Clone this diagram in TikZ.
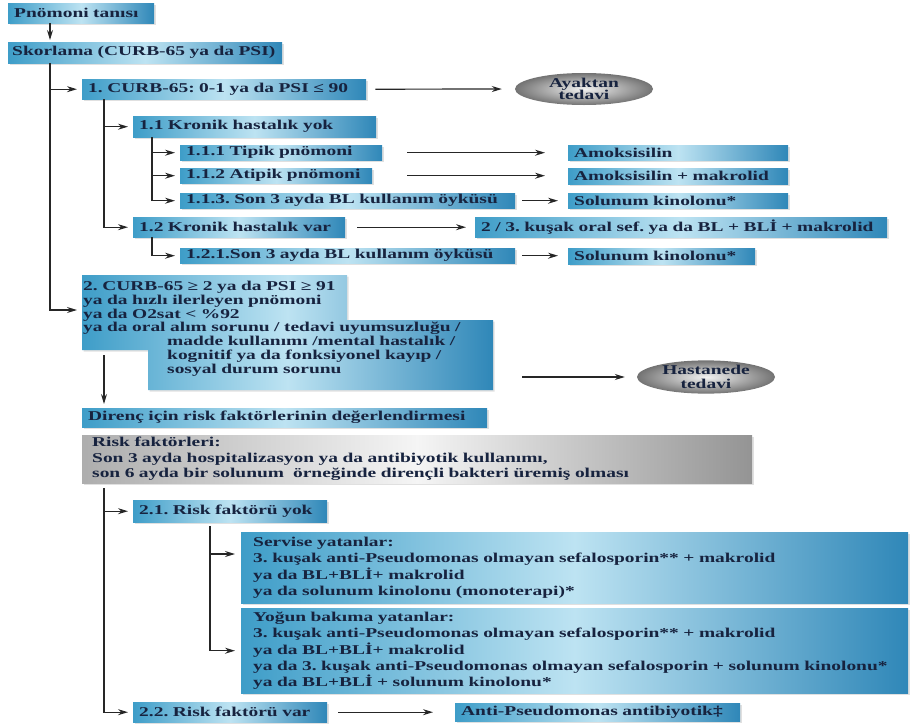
\documentclass[tikz,border=0pt]{standalone}
\usepackage{fontspec}
\setmainfont{Liberation Serif}[FakeStretch=1.44]
\usepackage{tikz}
\usetikzlibrary{shapes.geometric, arrows.meta, shadows}
\definecolor{boxblue}{HTML}{3E9DC8}
\definecolor{boxlight}{HTML}{BDE3F2}
\definecolor{boxdeep}{HTML}{2F87B8}
\definecolor{textnavy}{HTML}{17233F}
\newcommand{\boxfont}{\fontsize{13.5}{16.2}\selectfont\bfseries}
\frenchspacing

\begin{document}
\begin{tikzpicture}[x=1pt, y=-1pt,
    bluebox/.style={anchor=north west, inner xsep=6pt, inner ysep=0pt, align=left, font=\boxfont, text=textnavy,
        left color=boxblue, right color=boxdeep, middle color=boxlight,
        drop shadow={shadow xshift=1.5pt, shadow yshift=-1.5pt, fill=black!30, opacity=0.4}},
    graybox/.style={bluebox, inner xsep=10pt, left color=black!32, right color=black!42, middle color=black!4,
        font=\fontsize{13.5}{15.5}\selectfont\bfseries},
    oval/.style={ellipse, inner sep=0pt, minimum width=138pt, minimum height=32pt, align=center, text=textnavy,
        inner color=black!5, outer color=black!55, font=\fontsize{13.5}{12.5}\selectfont\bfseries},
    arrow/.style={-{Stealth[length=10pt, width=6pt]}, line width=1.2pt, color=black!85}
]
\useasboundingbox (0,0) rectangle (913,723);

% Diagnosis and scoring
\node[bluebox, text width=134pt, minimum height=20pt] (tani) at (8,3) {Pnömoni tanısı};
\node[bluebox, inner xsep=4pt, text width=266pt, minimum height=21pt] (skor) at (8,42) {Skorlama (CURB-65 ya da PSI)};

% Branch 1: outpatient
\node[bluebox, text width=272pt, minimum height=20pt] (curbA) at (82,79) {1. CURB-65: 0-1 ya da PSI ≤ 90};
\node[oval] (ayak) at (584,89) {Ayaktan\\tedavi};
\node[bluebox, text width=231pt, minimum height=21pt] (kron1) at (133,116) {1.1 Kronik hastalık yok};
\node[bluebox, text width=190pt, minimum height=15pt] (tipik) at (180,145) {1.1.1 Tipik pnömoni};
\node[bluebox, text width=180pt, minimum height=15pt] (atipik) at (180,168) {1.1.2 Atipik pnömoni};
\node[bluebox, text width=323pt, minimum height=15pt] (bl1) at (180,193) {1.1.3. Son 3 ayda BL kullanım öyküsü};
\node[bluebox, text width=200pt, minimum height=20pt] (kron2) at (133,217) {1.2 Kronik hastalık var};
\node[bluebox, text width=323pt, minimum height=15pt] (bl2) at (180,248) {1.2.1.Son 3 ayda BL kullanım öyküsü};

% Treatments for branch 1
\node[bluebox, text width=208pt, minimum height=15pt] (amok) at (568,145) {Amoksisilin};
\node[bluebox, text width=208pt, minimum height=16pt] (amokmak) at (568,168) {Amoksisilin + makrolid};
\node[bluebox, text width=208pt, minimum height=15pt] (kino1) at (568,193) {Solunum kinolonu*};
\node[bluebox, text width=400pt, minimum height=20pt] (kusak) at (475,217) {2 / 3. kuşak oral sef. ya da BL + BLİ + makrolid};
\node[bluebox, text width=175pt, minimum height=16pt] (kino2) at (568,248) {Solunum kinolonu*};

% Branch 2: hospital
\shade[left color=boxblue, right color=boxdeep, middle color=boxlight,
    drop shadow={shadow xshift=1.5pt, shadow yshift=-1.5pt, fill=black!30, opacity=0.4}]
    (82,275) -- (347,275) -- (347,320) -- (493,320) -- (493,390) -- (148,390) -- (148,350) -- (82,350) -- cycle;
\node[anchor=north west, inner xsep=1pt, inner ysep=0pt, text width=411pt, minimum height=107pt, align=left,
    text=textnavy, font=\fontsize{13.5}{13.9}\selectfont\bfseries] (curbB) at (82,275)
    {2. CURB-65 ≥ 2 ya da PSI ≥ 91\\
     ya da hızlı ilerleyen pnömoni\\
     ya da O2sat < \%92\\
     ya da oral alım sorunu / tedavi uyumsuzluğu /\\
     \hspace*{84pt}madde kullanımı /mental hastalık /\\
     \hspace*{84pt}kognitif ya da fonksiyonel kayıp /\\
     \hspace*{84pt}sosyal durum sorunu};
\coordinate (curbBin) at (82,310);
\coordinate (curbBout) at (493,377);
\coordinate (curbBdown) at (104,350);
\node[oval, font=\fontsize{13.5}{14}\selectfont\bfseries] (hast) at (706,377) {Hastanede\\tedavi};

% Resistance risk
\node[bluebox, text width=393pt, minimum height=19pt] (direnc) at (82,408) {Direnç için risk faktörlerinin değerlendirmesi};
\node[graybox, text width=650pt, minimum height=48pt] (risk) at (82,435)
    {Risk faktörleri:\\
     Son 3 ayda hospitalizasyon ya da antibiyotik kullanımı,\\
     son 6 ayda bir solunum~ örneğinde dirençli bakteri üremiş olması};
\node[bluebox, text width=182pt, minimum height=22pt] (rf1) at (133,500) {2.1. Risk faktörü yok};
\node[bluebox, inner xsep=12pt, text width=643pt, minimum height=71pt] (servis) at (241,532)
    {Servise yatanlar:\\
     3. kuşak anti-Pseudomonas olmayan sefalosporin** + makrolid\\
     ya da BL+BLİ+ makrolid\\
     ya da solunum kinolonu (monoterapi)*};
\node[bluebox, inner xsep=12pt, text width=643pt, minimum height=85pt] (yogun) at (241,608)
    {Yoğun bakıma yatanlar:\\
     3. kuşak anti-Pseudomonas olmayan sefalosporin** + makrolid\\
     ya da BL+BLİ+ makrolid\\
     ya da 3. kuşak anti-Pseudomonas olmayan sefalosporin + solunum kinolonu*\\
     ya da BL+BLİ + solunum kinolonu*};
\node[bluebox, text width=182pt, minimum height=20pt] (rf2) at (133,702) {2.2. Risk faktörü var};
\node[bluebox, text width=273pt, minimum height=18pt] (anti) at (455,703) {Anti-Pseudomonas antibiyotik‡};

% Tree links
\draw[arrow, shorten >=2pt] ([xshift=42pt]tani.south west) -- ([xshift=42pt]skor.north west);
\draw[arrow, shorten >=5pt] ([xshift=42pt]skor.south west) |- (curbA.west);
\draw[arrow, shorten >=5pt] ([xshift=42pt]skor.south west) |- (curbBin);
\draw[arrow, shorten >=5pt] ([xshift=22pt]curbA.south west) |- (kron1.west);
\draw[arrow, shorten >=5pt] ([xshift=22pt]curbA.south west) |- (kron2.west);
\draw[arrow, shorten >=5pt] ([xshift=19pt]kron1.south west) |- (tipik.west);
\draw[arrow, shorten >=5pt] ([xshift=19pt]kron1.south west) |- (atipik.west);
\draw[arrow, shorten >=5pt] ([xshift=19pt]kron1.south west) |- (bl1.west);
\draw[arrow, shorten >=5pt] ([xshift=19pt]kron2.south west) |- (bl2.west);
\draw[arrow, shorten <=5pt, shorten >=4pt] (curbBdown) -- (curbBdown |- direnc.north);
\draw[arrow, shorten <=5pt, shorten >=5pt] ([xshift=22pt]risk.south west) |- (rf1.west);
\draw[arrow, shorten <=5pt, shorten >=5pt] ([xshift=22pt]risk.south west) |- (rf2.west);
\draw[arrow, shorten <=4pt, shorten >=6pt] ([xshift=77pt]rf1.south west) |- ([yshift=-22pt]servis.north west);
\draw[arrow, shorten <=4pt, shorten >=6pt] ([xshift=77pt]rf1.south west) |- (yogun.west);

% Links to treatments
\draw[arrow, shorten <=9pt, shorten >=13pt] (curbA.east) -- (ayak.west);
\draw[arrow, shorten <=25pt, shorten >=23pt] (tipik.east) -- (amok.west);
\draw[arrow, shorten <=35pt, shorten >=23pt] (atipik.east) -- (atipik.east -| amokmak.west);
\draw[arrow, shorten <=7pt, shorten >=10pt] (bl1.east) -- (kino1.west);
\draw[arrow, shorten <=12pt, shorten >=9pt] (kron2.east) -- (kusak.west);
\draw[arrow, shorten <=7pt, shorten >=10pt] (bl2.east) -- (bl2.east -| kino2.west);
\draw[arrow, shorten <=29pt, shorten >=12pt] (curbBout) -- (hast.west);
\draw[arrow, shorten <=11pt, shorten >=22pt] (rf2.east) -- (rf2.east -| anti.west);

\end{tikzpicture}
\end{document}
